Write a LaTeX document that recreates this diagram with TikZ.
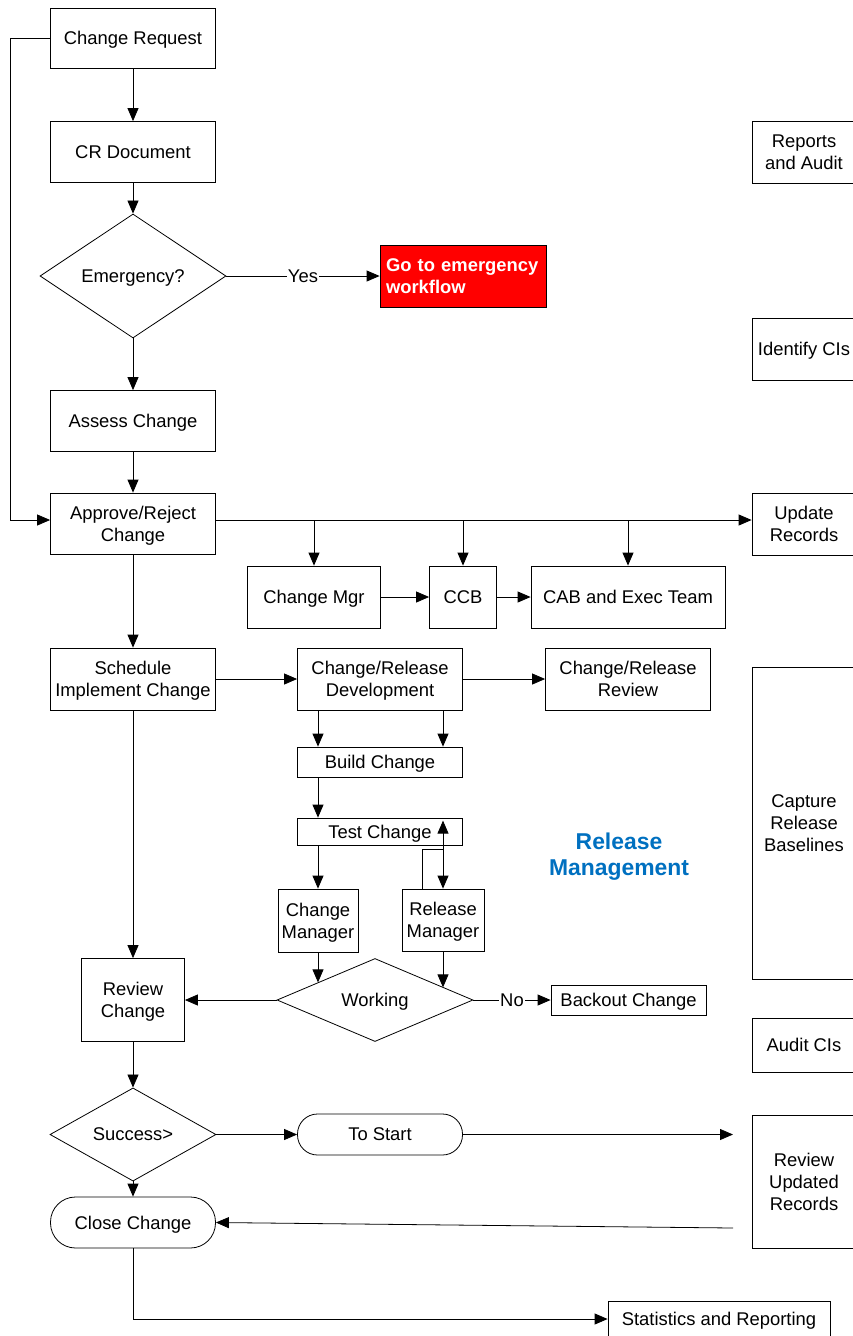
\documentclass[tikz,border=0pt]{standalone}
\usepackage{fontspec}
\setmainfont{Liberation Sans}
\usetikzlibrary{shapes.geometric,arrows.meta}
\definecolor{relblue}{RGB}{0,112,192}
\definecolor{emred}{RGB}{255,0,0}
\begin{document}
\begin{tikzpicture}[x=1pt,y=-1pt,
  every node/.style={font=\fontsize{18.4pt}{22pt}\selectfont, inner sep=0pt, align=center, text depth=0pt},
  box/.style={draw, line width=0.8pt, rectangle},
  dia/.style={draw, line width=0.8pt, diamond},
  rbox/.style={draw, line width=0.8pt, rectangle, rounded corners=#1},
  conn/.style={line width=0.8pt},
  arr/.style={conn, -{Triangle[length=13pt,width=11pt]}},
  lbl/.style={fill=white, inner sep=1pt}]
\useasboundingbox (0,0) rectangle (853,1336);
% main column
\node[box, minimum width=165pt, minimum height=60pt] (req) at (133,38) {Change Request};
\node[box, minimum width=165pt, minimum height=61pt] (crd) at (133,152) {CR Document};
\node[dia, minimum width=186pt, minimum height=124pt] (emg) at (133,276) {Emergency?};
\node[box, fill=emred, text=white, font=\fontsize{18.4pt}{22pt}\selectfont\bfseries, align=left, text width=154pt, text depth={}, inner xsep=6pt, minimum height=62pt] (ewf) at (463,276) {Go to emergency\\workflow};
\node[box, minimum width=165pt, minimum height=61pt] (asc) at (133,421) {Assess Change};
\node[box, minimum width=165pt, minimum height=61pt] (apr) at (133,523.5) {Approve/Reject\\Change};
\node[box, minimum width=133pt, minimum height=62pt] (cmg) at (314,597) {Change Mgr};
\node[box, minimum width=67pt, minimum height=62pt] (ccb) at (463,597) {CCB};
\node[box, minimum width=194pt, minimum height=62pt] (cab) at (628,597) {CAB and Exec Team};
\node[box, minimum width=165pt, minimum height=62pt] (sch) at (133,679) {Schedule\\Implement Change};
\node[box, minimum width=165pt, minimum height=62pt] (dev) at (380,679) {Change/Release\\Development};
\node[box, minimum width=165pt, minimum height=62pt] (rvw) at (628,679) {Change/Release\\Review};
\node[box, minimum width=165pt, minimum height=30pt] (bld) at (380,762) {Build Change};
\node[box, minimum width=165pt, minimum height=27pt] (tst) at (380,831.5) {Test Change};
\node[box, minimum width=80pt, minimum height=63pt] (chm) at (318,920.5) {Change\\Manager};
\node[box, minimum width=82pt, minimum height=62pt] (rlm) at (443,920) {Release\\Manager};
\node[dia, minimum width=196pt, minimum height=83pt] (wrk) at (375,1000) {Working};
\node[box, minimum width=103pt, minimum height=83pt] (rev) at (133,1000) {Review\\Change};
\node[box, minimum width=155pt, minimum height=30pt] (bck) at (628.5,1000) {Backout Change};
\node[dia, minimum width=166pt, minimum height=83pt] (suc) at (133,1134.5) {Success>};
\node[rbox=20pt, minimum width=165pt, minimum height=41pt] (tos) at (380,1134.5) {To Start};
\node[rbox=25pt, minimum width=165pt, minimum height=51pt] (clo) at (133,1222.5) {Close Change};
\node[box, minimum width=222pt, minimum height=36pt] (sta) at (719,1319) {Statistics and Reporting};
% right column
\node[box, minimum width=104pt, minimum height=62pt] (rep) at (804,152) {Reports\\and Audit};
\node[box, minimum width=104pt, minimum height=62pt] (ide) at (804,349) {Identify CIs};
\node[box, minimum width=104pt, minimum height=62pt] (upd) at (804,524) {Update\\Records};
\node[box, minimum width=104pt, minimum height=312pt] (cap) at (804,823) {Capture\\Release\\Baselines};
\node[box, minimum width=104pt, minimum height=54pt] (aud) at (804,1045) {Audit CIs};
\node[box, minimum width=104pt, minimum height=133pt] (rur) at (804,1181.5) {Review\\Updated\\Records};
% label
\node[text=relblue, font=\fontsize{22.9pt}{26pt}\selectfont\bfseries] (relm) at (619,854) {Release\\Management};
% free ends
\coordinate (tsend) at (733,1134.5);
\coordinate (clstart) at (733,1228);
\coordinate (arR) at ([yshift=3.5pt]apr.east);
\coordinate (arL) at ([yshift=3.5pt]apr.west);
% connectors
\draw[arr] (req) -- (crd);
\draw[arr] (crd) -- (emg);
\draw[arr] (emg.east) -- node[lbl]{Yes} (ewf.west);
\draw[arr] (emg) -- (asc);
\draw[arr] (asc) -- (apr);
\draw[arr] (req.west) -- ++(-40,0) |- (arL);
\draw[arr] (arR) -- (arR -| upd.west);
\draw[arr] (arR -| cmg.north) -- (cmg.north);
\draw[arr] (arR -| ccb.north) -- (ccb.north);
\draw[arr] (arR -| cab.north) -- (cab.north);
\draw[arr] (cmg) -- (ccb);
\draw[arr] (ccb) -- (cab);
\draw[arr] (apr) -- (sch);
\draw[arr] (sch) -- (dev);
\draw[arr] (dev) -- (rvw);
\draw[arr] (dev.south -| chm.north) -- (bld.north -| chm.north);
\draw[arr] (dev.south -| rlm.north) -- (bld.north -| rlm.north);
\draw[arr] (bld.south -| chm.north) -- (tst.north -| chm.north);
\draw[arr] (tst.south -| chm.north) -- (chm.north);
\draw[conn, {Triangle[length=13pt,width=11pt]}-{Triangle[length=13pt,width=11pt]}] ([yshift=-3pt]tst.north -| rlm.north) -- (rlm.north);
\draw[conn] ([xshift=-21pt]rlm.north) -- ++(0,-39) -- ++(21,0);
\draw[arr] (chm.south) -- ++(0,30);
\draw[arr] (rlm.south) -- ++(0,36);
\draw[arr] (wrk.west) -- (rev.east);
\draw[arr] (wrk.east) -- node[lbl]{No} (bck.west);
\draw[arr] (sch) -- (rev);
\draw[arr] (rev) -- (suc);
\draw[arr] (suc) -- (clo);
\draw[arr] (suc) -- (tos);
\draw[arr] (tos.east) -- (tsend);
\draw[arr] (clstart) -- (clo.east);
\draw[arr] (clo.south) |- (sta.west);
\end{tikzpicture}
\end{document}
